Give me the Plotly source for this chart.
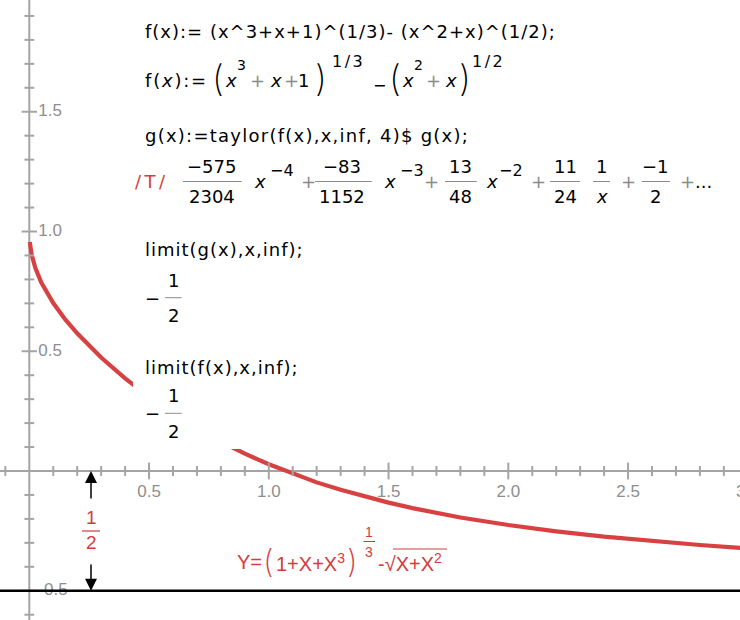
import plotly.graph_objects as go

# ---------------- data ----------------
curve_x = [0.002, 0.01, 0.025, 0.05, 0.1, 0.15, 0.2, 0.3, 0.4, 0.5, 0.6, 0.7, 0.8, 0.9,
           1.0, 1.1, 1.2, 1.3, 1.4, 1.5, 1.6, 1.8, 2.0, 2.2, 2.4, 2.6, 2.8, 3.0, 3.1]
curve_y = [0.956, 0.903, 0.848, 0.787, 0.701, 0.633, 0.575, 0.474, 0.387, 0.310, 0.240,
           0.178, 0.122, 0.0725, 0.028, -0.012, -0.0475, -0.0787, -0.107, -0.132, -0.155,
           -0.194, -0.2255, -0.252, -0.274, -0.293, -0.309, -0.323, -0.329]

x_major = [0.5, 1.0, 1.5, 2.0, 2.5, 3.0]
x_major_labels = ["0.5", "1.0", "1.5", "2.0", "2.5", "3.0"]
x_minor = [-0.1, 0.1, 0.2, 0.3, 0.4, 0.6, 0.7, 0.8, 0.9, 1.1, 1.2, 1.3, 1.4, 1.6, 1.7, 1.8,
           1.9, 2.1, 2.2, 2.3, 2.4, 2.6, 2.7, 2.8, 2.9]
y_major = [-0.5, 0.5, 1.0, 1.5]
y_major_labels = ["-0.5", "0.5", "1.0", "1.5"]
y_minor = [-0.6, -0.4, -0.3, -0.2, -0.1, 0.1, 0.2, 0.3, 0.4, 0.6, 0.7, 0.8, 0.9, 1.1, 1.2,
           1.3, 1.4, 1.6, 1.7, 1.8, 1.9]
asymptote = -0.5

# ---------------- geometry helpers ----------------
W, H = 740, 620
X0PX, XS = 29.3, 239.5   # pixel of x=0, px per unit
Y0PX, YS = 471.0, 239.5  # pixel of y=0, px per unit
xr = [(0 - X0PX) / XS, (W - X0PX) / XS]
yr = [(Y0PX - H) / YS, (Y0PX - 0) / YS]


def PX(p):
    return p / W


def PY(p):
    return 1 - p / H


AX_GRAY = "#a4a4a4"
LBL_GRAY = "#8e8e8e"
RED = "#d84141"
TRED = "#d43c3c"
OP_GRAY = "#8c8c8c"
FONT = "DejaVu Sans"
THIN = "Liberation Sans"
PAREN = "Inter"

fig = go.Figure()

# curve
fig.add_trace(go.Scatter(x=curve_x, y=curve_y, mode="lines",
                         line=dict(color=RED, width=4.2), hoverinfo="skip"))

# tick marks on the axes through the origin
fig.add_trace(go.Scatter(x=x_major, y=[0] * len(x_major), mode="markers",
                         marker=dict(symbol="line-ns", size=12, line=dict(color=AX_GRAY, width=2)),
                         hoverinfo="skip"))
fig.add_trace(go.Scatter(x=x_minor, y=[0] * len(x_minor), mode="markers",
                         marker=dict(symbol="line-ns", size=7, line=dict(color=AX_GRAY, width=2)),
                         hoverinfo="skip"))
fig.add_trace(go.Scatter(x=[0] * len(y_major), y=y_major, mode="markers",
                         marker=dict(symbol="line-ew", size=11, line=dict(color=AX_GRAY, width=2)),
                         hoverinfo="skip"))
fig.add_trace(go.Scatter(x=[0] * len(y_minor), y=y_minor, mode="markers",
                         marker=dict(symbol="line-ew", size=7, line=dict(color=AX_GRAY, width=2)),
                         hoverinfo="skip"))

# tick labels
fig.add_trace(go.Scatter(x=x_major, y=[-22 / YS] * len(x_major), mode="text",
                         text=x_major_labels, textposition="middle center",
                         textfont=dict(family="Liberation Sans", size=17, color=LBL_GRAY),
                         hoverinfo="skip"))
fig.add_trace(go.Scatter(x=[9 / XS] * len(y_major), y=y_major, mode="text",
                         text=y_major_labels, textposition="middle right",
                         textfont=dict(family="Liberation Sans", size=17, color=LBL_GRAY),
                         hoverinfo="skip"))

shapes = []
# axes
shapes.append(dict(type="line", xref="paper", yref="y", x0=0, x1=1, y0=0, y1=0,
                   line=dict(color=AX_GRAY, width=2), layer="below"))
shapes.append(dict(type="line", xref="x", yref="paper", x0=0, x1=0, y0=0, y1=1,
                   line=dict(color=AX_GRAY, width=2), layer="below"))
# white text panel hiding part of the curve
shapes.append(dict(type="rect", xref="paper", yref="paper", x0=PX(133), x1=1.01,
                   y0=PY(449), y1=1.01, fillcolor="white", line=dict(width=0), layer="above"))
# asymptote
shapes.append(dict(type="line", xref="paper", yref="y", x0=0, x1=1, y0=asymptote, y1=asymptote,
                   line=dict(color="black", width=2.4), layer="above"))

ann = []


def A(text, px, py, size=18, color="black", xa="left", family=FONT, weight=None):
    f = dict(family=family, size=size, color=color)
    if weight is not None:
        f["weight"] = weight
    ann.append(dict(text=text, x=PX(px), y=PY(py), xref="paper", yref="paper",
                    xanchor=xa, yanchor="middle", showarrow=False, font=f, borderpad=0))


def BAR(x0, x1, py, color=OP_GRAY, w=1):
    shapes.append(dict(type="line", xref="paper", yref="paper", x0=PX(x0), x1=PX(x1),
                       y0=PY(py), y1=PY(py), line=dict(color=color, width=w), layer="above"))


def LS(t, sp):
    return "<span style='letter-spacing:%spx'>%s</span>" % (sp, t)


# line 1
A(LS("f(x):= (x^3+x+1)^(1/3)- (x^2+x)^(1/2);", 1.0), 144, 31)

# line 2 (typeset formula)
A(LS("f(<i>x</i>):=", 1.8), 144, 80)
A("(", 218, 78, size=36, xa="center", family=PAREN, weight=200)
A("<i>x</i>", 231, 80, xa="center")
A("3", 241.5, 65, size=14, xa="center")
A("+", 257, 80, color=OP_GRAY, xa="center")
A("<i>x</i>", 276, 80, xa="center")
A("+", 291, 80, color=OP_GRAY, xa="center")
A("1", 303, 80, xa="center")
A(")", 321, 78, size=36, xa="center", family=PAREN, weight=200)
A(LS("1/3", 2.5), 331, 61, size=16)
A("−", 379, 86, size=16, xa="center")
A("(", 395, 78, size=36, xa="center", family=PAREN, weight=200)
A("<i>x</i>", 407.5, 80, xa="center")
A("2", 418, 65, size=14, xa="center")
A("+", 433, 80, color=OP_GRAY, xa="center")
A("<i>x</i>", 450.5, 80, xa="center")
A(")", 465, 78, size=36, xa="center", family=PAREN, weight=200)
A(LS("1/2", 2.5), 471, 61, size=16)

# line 3
A(LS("g(x):=taylor(f(x),x,inf, 4)$ g(x);", 1.25), 144, 135)

# Taylor series line
A(LS("/T/", 3.5), 134, 181, size=18, color=TRED)
fracs = [("−575", "2304", 211.7, 183, 241.7), ("−83", "1152", 341.7, 315, 371.7),
         ("13", "48", 460, 445, 476.7), ("11", "24", 565, 550, 580),
         ("1", "<i>x</i>", 601.7, 593, 610), ("−1", "2", 655, 641.7, 670)]
for num, den, cx, b0, b1 in fracs:
    A(num, cx, 166, xa="center")
    A(den, cx, 196.5, xa="center")
    BAR(b0, b1, 181.5)
for cx, ex, ecx in [(260, "−4", 281.7), (390, "−3", 411.7), (492, "−2", 510.5)]:
    A("<i>x</i>", cx, 181, xa="center")
    A(ex, ecx, 170, size=16, xa="center")
for cx in [308, 431.7, 538, 628]:
    A("+", cx, 182, color=OP_GRAY, xa="center")
A("<span style='color:#8c8c8c'>+</span>...", 679, 182)

# limits
A(LS("limit(g(x),x,inf);", 1.0), 144, 250)
A("−", 152.5, 298, xa="center")
A("1", 173, 280, xa="center")
A("2", 173, 315.5, xa="center")
BAR(165, 181.7, 297.7)
A(LS("limit(f(x),x,inf);", 1.0), 144, 367)
A("−", 152.5, 413.5, xa="center")
A("1", 173, 395, xa="center")
A("2", 173, 431, xa="center")
BAR(165, 181.7, 413.3)

# "1/2" distance marker
A("1", 91, 517, size=19, color=TRED, xa="center", family=THIN)
A("2", 91, 542, size=19, color=TRED, xa="center", family=THIN)
BAR(82, 100, 531, color=TRED, w=1.2)
arrow_x = (91 - X0PX) / XS
for tip, tail in [(0.0, (Y0PX - 500) / YS), (asymptote, (Y0PX - 563) / YS)]:
    ann.append(dict(x=arrow_x, y=tip, xref="x", yref="y",
                    ax=arrow_x, ay=tail, axref="x", ayref="y", text="",
                    showarrow=True, arrowhead=2, arrowsize=1.6, arrowwidth=1.5,
                    arrowcolor="black", standoff=0, startstandoff=0))

# function label
A("Y=", 236, 562, size=20, color=TRED, family=THIN)
A("(", 268, 561, size=32, color=TRED, xa="center", family=PAREN, weight=200)
A("1+X+X<sup>3</sup>", 275, 562, size=20, color=TRED, family=THIN)
A(")", 352, 561, size=32, color=TRED, xa="center", family=PAREN, weight=200)
A("1", 369, 531.5, size=14, color=TRED, xa="center", family=THIN)
A("3", 369, 552, size=14, color=TRED, xa="center", family=THIN)
BAR(363.5, 375, 541.5, color=TRED, w=1)
A("-√X+X<sup>2</sup>", 377, 562, size=20, color=TRED, family=THIN)
BAR(393, 447, 549, color=TRED, w=1)

fig.update_layout(
    width=W, height=H, margin=dict(l=0, r=0, t=0, b=0),
    paper_bgcolor="white", plot_bgcolor="white", showlegend=False,
    xaxis=dict(range=xr, visible=False, fixedrange=True),
    yaxis=dict(range=yr, visible=False, fixedrange=True),
    shapes=shapes, annotations=ann,
)

fig.write_html("out.html", config={"displayModeBar": False},
               post_script="document.body.style.margin='0px';")
